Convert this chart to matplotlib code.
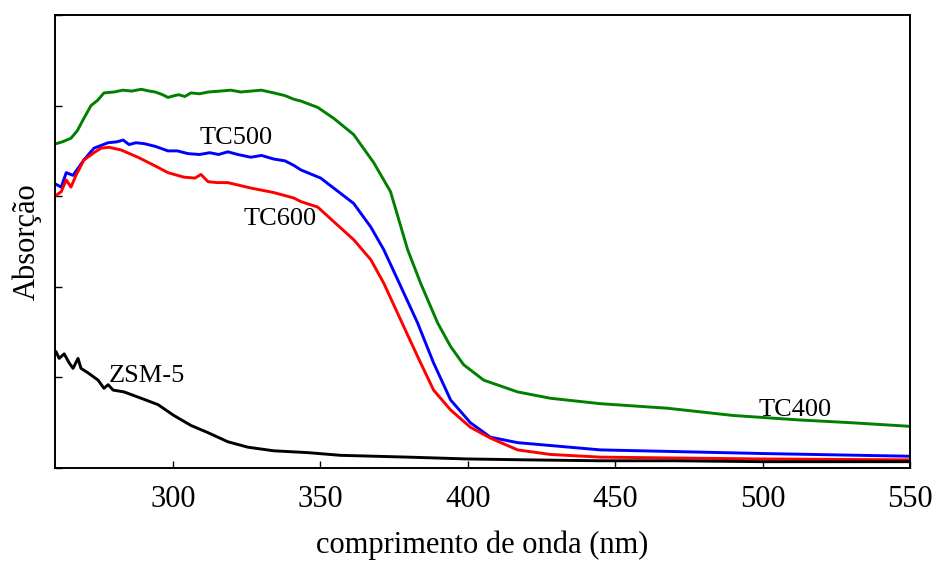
import matplotlib
matplotlib.use("Agg")
import matplotlib.pyplot as plt

plt.rcParams['font.family'] = ['Liberation Serif', 'DejaVu Serif']

# UV-Vis absorption spectra (arbitrary units)
tc400_nm = [260.4, 262.5, 265.4, 267.5, 269.8, 272.2, 274.5, 276.6, 280.0, 283.0, 286.0,
            289.2, 292.0, 294.0, 296.5, 298.3, 300.5, 302.0, 304.0, 306.1, 309.0,
            312.0, 316.0, 319.6, 323.0, 326.4, 330.0, 334.2, 338.0, 341.0, 343.4,
            349.1, 354.5, 361.3, 368.1, 373.8, 379.6, 384.0, 389.8, 394.2, 398.6,
            405.4, 416.9, 428.0, 445.0, 467.7, 490.0, 512.7, 530.0, 550.0]
tc400_abs = [3.58, 3.60, 3.64, 3.72, 3.86, 4.00, 4.06, 4.14, 4.15, 4.17, 4.16,
             4.18, 4.16, 4.15, 4.12, 4.09, 4.11, 4.12, 4.10, 4.14, 4.13,
             4.15, 4.16, 4.17, 4.15, 4.16, 4.17, 4.14, 4.11, 4.07, 4.05,
             3.98, 3.86, 3.68, 3.37, 3.05, 2.41, 2.04, 1.60, 1.34, 1.14,
             0.97, 0.84, 0.77, 0.71, 0.66, 0.58, 0.53, 0.50, 0.46]

tc500_nm = [260.4, 262.1, 263.8, 266.1, 269.8, 273.2, 278.0, 281.0, 283.1, 285.1,
            287.5, 290.2, 294.0, 298.3, 301.5, 305.1, 309.0, 312.5, 315.5, 318.6,
            322.0, 326.4, 330.0, 334.2, 338.0, 341.0, 343.4, 350.1, 354.5, 361.3,
            367.1, 371.5, 376.2, 383.0, 388.4, 394.2, 400.9, 407.7, 416.9, 445.0,
            500.0, 550.0]
tc500_abs = [3.13, 3.10, 3.26, 3.23, 3.40, 3.53, 3.59, 3.60, 3.62, 3.57,
             3.59, 3.58, 3.55, 3.50, 3.50, 3.47, 3.46, 3.48, 3.46, 3.49,
             3.46, 3.43, 3.45, 3.41, 3.39, 3.34, 3.29, 3.20, 3.09, 2.92,
             2.66, 2.41, 2.08, 1.60, 1.16, 0.75, 0.50, 0.34, 0.28, 0.20,
             0.16, 0.13]

tc600_nm = [260.4, 262.1, 263.8, 265.4, 267.1, 269.8, 273.2, 275.6, 278.3, 282.4,
            288.1, 293.6, 298.3, 303.7, 307.5, 309.5, 311.9, 315.0, 318.6, 326.4,
            334.2, 341.0, 343.4, 349.1, 354.5, 361.3, 367.1, 371.5, 378.3, 383.0,
            388.4, 394.2, 400.9, 407.7, 416.9, 428.0, 445.0, 500.0, 550.0]
tc600_abs = [3.01, 3.05, 3.18, 3.10, 3.23, 3.40, 3.48, 3.53, 3.54, 3.51,
             3.43, 3.34, 3.26, 3.21, 3.20, 3.24, 3.16, 3.15, 3.15, 3.09,
             3.04, 2.98, 2.94, 2.88, 2.72, 2.52, 2.30, 2.04, 1.56, 1.23,
             0.86, 0.64, 0.45, 0.33, 0.20, 0.15, 0.12, 0.10, 0.09]

zsm5_nm = [260.4, 261.4, 263.1, 264.8, 266.1, 267.8, 268.8, 271.2, 274.6, 276.6,
           278.0, 279.7, 283.4, 289.2, 294.9, 300.3, 306.1, 311.9, 318.6, 325.4,
           334.2, 345.7, 356.9, 380.0, 399.9, 420.0, 445.0, 470.0, 500.0, 525.0, 550.0]
zsm5_abs = [1.28, 1.21, 1.26, 1.16, 1.10, 1.21, 1.10, 1.05, 0.97, 0.88,
            0.92, 0.86, 0.84, 0.77, 0.70, 0.58, 0.47, 0.39, 0.29, 0.23,
            0.19, 0.17, 0.14, 0.12, 0.10, 0.09, 0.08, 0.08, 0.07, 0.07, 0.07]

x_ticks = [300, 350, 400, 450, 500, 550]

fig = plt.figure(figsize=(9.36, 5.63), dpi=100)
ax = fig.add_axes([0.0588, 0.1687, 0.9134, 0.8047])

lw = 2.1
ax.plot(tc400_nm, tc400_abs, color='#008000', lw=lw)
ax.plot(tc500_nm, tc500_abs, color='#0000ff', lw=lw)
ax.plot(tc600_nm, tc600_abs, color='#ff0000', lw=lw)
ax.plot(zsm5_nm, zsm5_abs, color='black', lw=lw)

ax.set_xlim(260, 550)
ax.set_ylim(0, 5)
ax.set_xticks(x_ticks)
ax.set_yticks([0, 1, 2, 3, 4, 5])
ax.set_yticklabels([])
ax.tick_params(direction='in', length=5, width=1.0, labelsize=22, pad=12)
for s in ax.spines.values():
    s.set_linewidth(1.4)

ax.set_xlabel('comprimento de onda (nm)', fontsize=22, labelpad=12)
ax.set_ylabel('Absorção', fontsize=22)
ax.yaxis.set_label_coords(-0.016, 0.5)

fs = 19
ax.text(321.3, 3.64, 'TC500', fontsize=fs, ha='center', va='center')
ax.text(336.2, 2.75, 'TC600', fontsize=fs, ha='center', va='center')
ax.text(291.2, 1.02, 'ZSM-5', fontsize=fs, ha='center', va='center')
ax.text(511.0, 0.64, 'TC400', fontsize=fs, ha='center', va='center')

fig.savefig('out.png', dpi=100)
